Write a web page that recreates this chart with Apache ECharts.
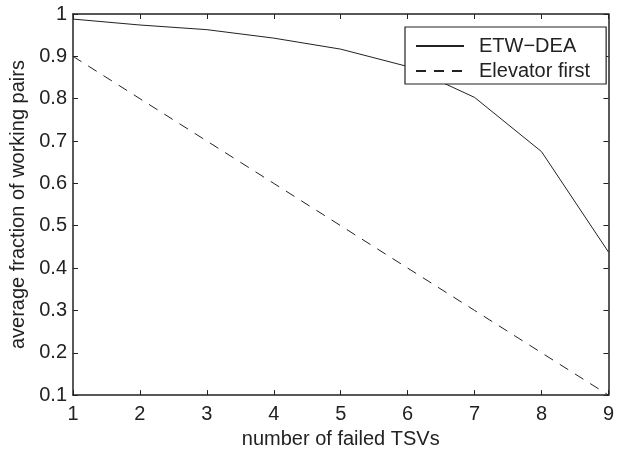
<!DOCTYPE html>
<html><head><meta charset="utf-8">
<script src="https://cdn.jsdelivr.net/npm/echarts@6/dist/echarts.min.js"></script>
<style>html,body{margin:0;padding:0;background:#fff}#c{width:617px;height:454px}</style>
</head><body><div id="c"></div>
<script>
var xValues = [1, 2, 3, 4, 5, 6, 7, 8, 9];
var etwDea = [0.988, 0.974, 0.963, 0.943, 0.917, 0.876, 0.803, 0.675, 0.438];
var elevatorFirst = [0.9, 0.8, 0.7, 0.6, 0.5, 0.4, 0.3, 0.2, 0.1];
var seriesNames = ['ETW\u2212DEA', 'Elevator first'];
var xTicks = [1, 2, 3, 4, 5, 6, 7, 8, 9];
var yTicks = [0.1, 0.2, 0.3, 0.4, 0.5, 0.6, 0.7, 0.8, 0.9, 1];

var font = 'Liberation Sans, Arial, Helvetica, sans-serif';
var ink = '#222';
var fs = 20;
function pairs(ys){ return xValues.map(function(x,i){ return [x, ys[i]]; }); }
var axisCommon = {
  axisLine: {show: true, lineStyle: {color: ink, width: 1.5}},
  axisTick: {show: true, inside: true, length: 5, lineStyle: {color: ink, width: 1}},
  splitLine: {show: false}
};
var chart = echarts.init(document.getElementById('c'), null, {renderer: 'canvas'});
chart.setOption({
  animation: false,
  backgroundColor: '#fff',
  grid: {left: 73, right: 5, top: 14, bottom: 54, containLabel: false},
  legend: {
    show: true, orient: 'vertical', left: 405, top: 27,
    data: seriesNames.map(function(n){ return {name: n, itemStyle: {opacity: 0}}; }),
    itemWidth: 48, itemHeight: 20, itemGap: 5,
    padding: [9, 16, 3, 10],
    borderColor: ink, borderWidth: 1.2, backgroundColor: '#fff', borderRadius: 0,
    textStyle: {fontFamily: font, fontSize: fs, color: ink, padding: [0,0,0,10]}
  },
  xAxis: [
    Object.assign({type: 'value', min: 1, max: 9, interval: 1, position: 'bottom',
      name: 'number of failed TSVs', nameLocation: 'middle', nameGap: 33,
      nameTextStyle: {fontFamily: font, fontSize: fs, color: ink},
      axisLabel: {fontFamily: font, fontSize: fs, color: ink, margin: 9,
        formatter: function(v){ return xTicks.indexOf(v) >= 0 ? String(v) : ''; }}}, axisCommon),
    Object.assign({type: 'value', min: 1, max: 9, interval: 1, position: 'top',
      axisLabel: {show: false}}, axisCommon)
  ],
  yAxis: [
    Object.assign({type: 'value', min: 0.1, max: 1, interval: 0.1, position: 'left',
      name: 'average fraction of working pairs', nameLocation: 'middle', nameGap: 44,
      nameTextStyle: {fontFamily: font, fontSize: fs, color: ink},
      axisLabel: {fontFamily: font, fontSize: fs, color: ink, margin: 6,
        formatter: function(v){ var r = Math.round(v*10)/10; return yTicks.indexOf(r) >= 0 ? String(r) : ''; }}}, axisCommon),
    Object.assign({type: 'value', min: 0.1, max: 1, interval: 0.1, position: 'right',
      axisLabel: {show: false}}, axisCommon)
  ],
  series: [
    {name: seriesNames[0], type: 'line', data: pairs(etwDea), symbol: 'none',
      lineStyle: {color: ink, width: 1, type: 'solid'}, itemStyle: {color: ink}},
    {name: seriesNames[1], type: 'line', data: pairs(elevatorFirst), symbol: 'none',
      lineStyle: {color: ink, width: 1, type: [10, 8]}, itemStyle: {color: ink}}
  ]
});
</script></body></html>
